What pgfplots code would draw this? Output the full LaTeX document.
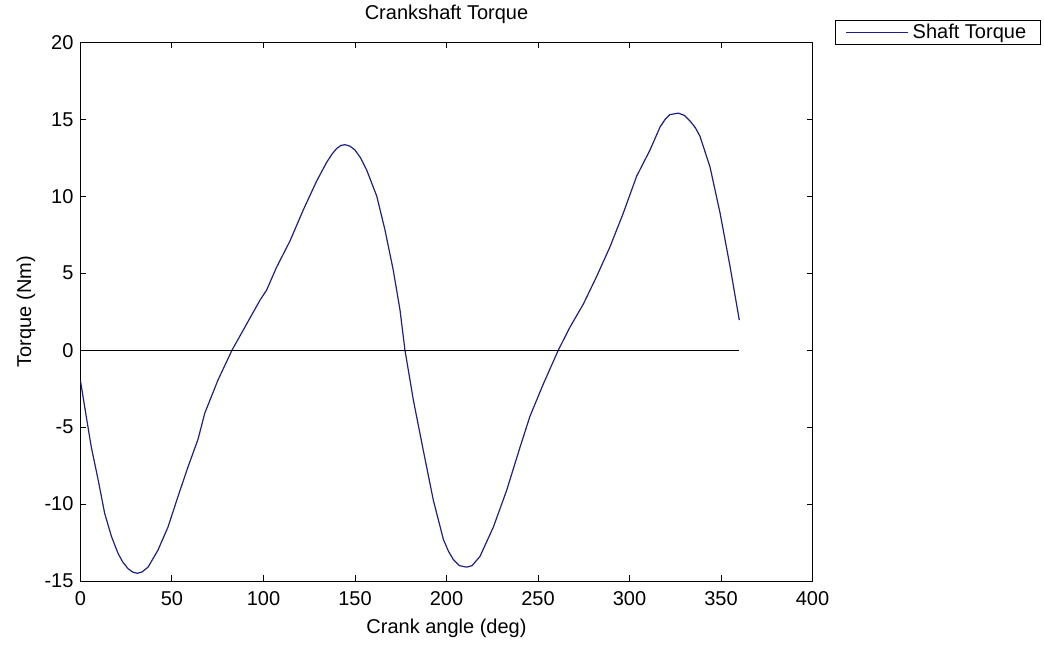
\documentclass[border=0pt]{standalone}
\usepackage{pgfplots}
\pgfplotsset{compat=1.18}
\usepackage{fontspec}
\setmainfont{Liberation Sans}
\definecolor{curveblue}{RGB}{30,30,140}
\begin{document}
\begin{tikzpicture}
\useasboundingbox (-40.25pt,-32pt) rectangle (481.75pt,290.5pt);
\begin{axis}[
  at={(0pt,0pt)}, anchor=south west,
  scale only axis,
  width=366pt, height=269.35pt,
  xmin=0, xmax=400, ymin=-15, ymax=20,
  xtick={0,50,...,400}, ytick={-15,-10,...,20},
  tick align=inside, xtick pos=both, ytick pos=both,
  major tick length=3pt,
  axis line style={line width=0.5pt},
  every tick/.style={black, line width=0.5pt},
  /pgf/number format/assume math mode=true,
  ticklabel style={font=\fontsize{10}{12}\selectfont},
  xticklabel style={anchor=base, yshift=-12.3pt},
  scaled ticks=false,
  title={Crankshaft Torque},
  title style={at={(axis description cs:0.5,1.0197)}, anchor=base, font=\fontsize{10}{12}\selectfont},
  xlabel={Crank angle (deg)},
  xlabel style={at={(axis description cs:0.5,-0.0973)}, anchor=base, font=\fontsize{10}{12}\selectfont},
  ylabel={Torque (Nm)},
  ylabel style={at={(axis description cs:-0.0675,0.5)}, anchor=base, rotate=0, font=\fontsize{10}{12}\selectfont},
  legend style={at={(1,1)}, anchor=north west, xshift=11.25pt, yshift=11pt, draw=black, line width=0.5pt,
    font=\fontsize{10}{12}\selectfont, inner xsep=5pt, inner ysep=0.5pt,
    nodes={inner ysep=1pt}},
  legend cell align=left,
  legend image code/.code={\draw[#1] (0pt,0pt) -- (31pt,0pt);},
]
\addplot[color=curveblue, line width=0.6pt, line join=round] coordinates {
(0,-2.0) (2.3,-3.7) (5.9,-6.3) (9.6,-8.4) (13.2,-10.6) (16.9,-12.1) (20.5,-13.2)
(23,-13.75) (26,-14.2) (28.5,-14.42) (31,-14.5) (33.5,-14.42) (36.9,-14.1) (42.3,-13.0) (47.8,-11.5) (53.3,-9.5)
(58.7,-7.6) (64.2,-5.8) (67.9,-4.1) (75.1,-1.95) (82.8,0) (90.8,1.7) (98.1,3.25)
(101.7,3.9) (107.2,5.4) (114.5,7.1) (121.7,9.1) (129.1,11.0) (134.5,12.2)
(137.5,12.75) (140,13.1) (142.3,13.3) (144.5,13.35) (147.3,13.25) (150,13.0) (153,12.5) (156.4,11.7) (161.9,10.0) (166.4,7.8)
(170.9,5.2) (174.6,2.6) (177.3,0) (181.9,-3.25) (187.3,-6.5) (192.8,-9.75)
(198.3,-12.3) (201,-13.05) (203.7,-13.6) (207,-14.0) (211,-14.1) (214,-14.0) (218.3,-13.4)
(225.6,-11.5) (232.9,-9.1) (240.2,-6.3) (245.6,-4.3) (252.9,-2.2) (261.1,0)
(267.5,1.5) (274.8,3.0) (282.1,4.8) (289.3,6.7) (296.6,8.9) (303.9,11.3)
(311.2,13.0) (316.7,14.5) (319.5,15.0) (322.1,15.3) (326.7,15.4) (330,15.25) (333,14.9) (336,14.45) (338.5,13.9)
(344,11.9) (349.5,8.9) (355,5.4) (360,1.95)
};
\addlegendentry{Shaft Torque}
\addplot[black, line width=0.5pt, forget plot] coordinates {(0,0) (360,0)};
\end{axis}
\end{tikzpicture}
\end{document}
